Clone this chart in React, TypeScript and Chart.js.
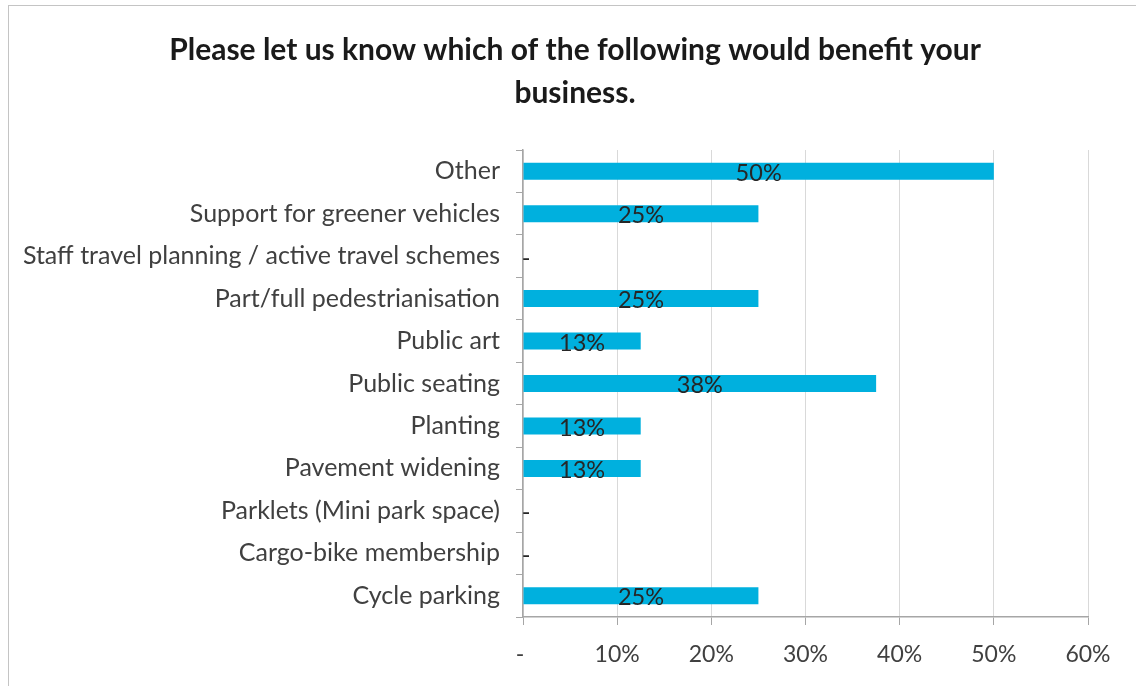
import React, { useEffect, useRef } from "react";
import { Chart, registerables } from "chart.js";

Chart.register(...registerables);

const titleLines = ["Please let us know which of the following would benefit your", "business."];
const categories = [
  "Other",
  "Support for greener vehicles",
  "Staff travel planning / active travel schemes",
  "Part/full pedestrianisation",
  "Public art",
  "Public seating",
  "Planting",
  "Pavement widening",
  "Parklets (Mini park space)",
  "Cargo-bike membership",
  "Cycle parking",
];
const values = [50, 25, 0, 25, 12.5, 37.5, 12.5, 12.5, 0, 0, 25];
const xTicks = [0, 10, 20, 30, 40, 50, 60];

const FONT = "Lato, 'Open Sans', sans-serif";

const titlePlugin = {
  id: "customTitle",
  afterDraw(chart: any) {
    const ctx = chart.ctx;
    ctx.save();
    ctx.font = `bold 30px ${FONT}`;
    ctx.fillStyle = "#1a1a1a";
    ctx.textAlign = "center";
    ctx.textBaseline = "middle";
    const cx = chart.width / 2 + 7;
    titleLines.forEach((line, i) => ctx.fillText(line, cx, 50 + i * 43));
    ctx.restore();
  },
};

const dataLabelPlugin = {
  id: "dataLabels",
  afterDatasetsDraw(chart: any) {
    const ctx = chart.ctx;
    const meta = chart.getDatasetMeta(0);
    const data = chart.data.datasets[0].data as number[];
    ctx.save();
    ctx.font = `23.5px ${FONT}`;
    ctx.fillStyle = "#262626";
    ctx.textAlign = "center";
    ctx.textBaseline = "middle";
    meta.data.forEach((bar: any, i: number) => {
      const v = data[i];
      const label = v === 0 ? "-" : Math.round(v) + "%";
      const cx = (bar.x + bar.base) / 2;
      ctx.fillText(label, cx + (v === 0 ? 3 : 0), bar.y + 2);
    });
    ctx.restore();
  },
};

export default function App() {
  const ref = useRef<HTMLCanvasElement | null>(null);
  useEffect(() => {
    if (!ref.current) return;
    const chart = new Chart(ref.current, {
      type: "bar",
      data: {
        labels: categories,
        datasets: [
          {
            data: values,
            backgroundColor: "#00B0DE",
            borderWidth: 0,
            categoryPercentage: 1,
            barPercentage: 0.4,
          },
        ],
      },
      options: {
        indexAxis: "y",
        animation: false,
        responsive: false,
        maintainAspectRatio: false,
        layout: { padding: { left: 8, right: 48, top: 150, bottom: 9 } },
        plugins: {
          legend: { display: false },
          tooltip: { enabled: false },
          title: { display: false },
        },
        scales: {
          x: {
            min: 0,
            max: 60,
            afterBuildTicks: (scale: any) => {
              scale.ticks = xTicks.map((v) => ({ value: v }));
            },
            afterFit: (scale: any) => {
              scale.height = 60;
            },
            ticks: {
              callback: (v: any) => (Number(v) === 0 ? "- " : v + "%"),
              color: "#404040",
              font: { family: FONT, size: 23 },
              padding: 16,
              maxRotation: 0,
            },
            grid: {
              color: "#d9d9d9",
              lineWidth: 1,
              tickLength: 8,
              tickColor: "#a6a6a6",
            },
            border: { color: "#a6a6a6", width: 1.5 },
          },
          y: {
            afterFit: (scale: any) => {
              scale.width = 523 - 8;
            },
            ticks: {
              color: "#404040",
              font: { family: FONT, size: 25 },
              padding: 16,
              autoSkip: false,
            },
            grid: {
              drawOnChartArea: false,
              tickLength: 7,
              color: "#a6a6a6",
              offset: true,
            },
            border: { color: "#a6a6a6", width: 1.5 },
          },
        },
      },
      plugins: [dataLabelPlugin, titlePlugin],
    });
    return () => chart.destroy();
  }, []);

  return (
    <div style={{ position: "absolute", left: 0, top: 0, width: 1136, height: 686, overflow: "hidden", background: "#fff" }}>
      <div
        style={{
          position: "absolute",
          left: 8,
          top: 5,
          width: 1200,
          height: 800,
          borderLeft: "1.5px solid #c4c4c4",
          borderTop: "1.5px solid #c4c4c4",
        }}
      />
      <canvas ref={ref} width={1136} height={686} style={{ position: "absolute", left: 0, top: 0 }} />
    </div>
  );
}
